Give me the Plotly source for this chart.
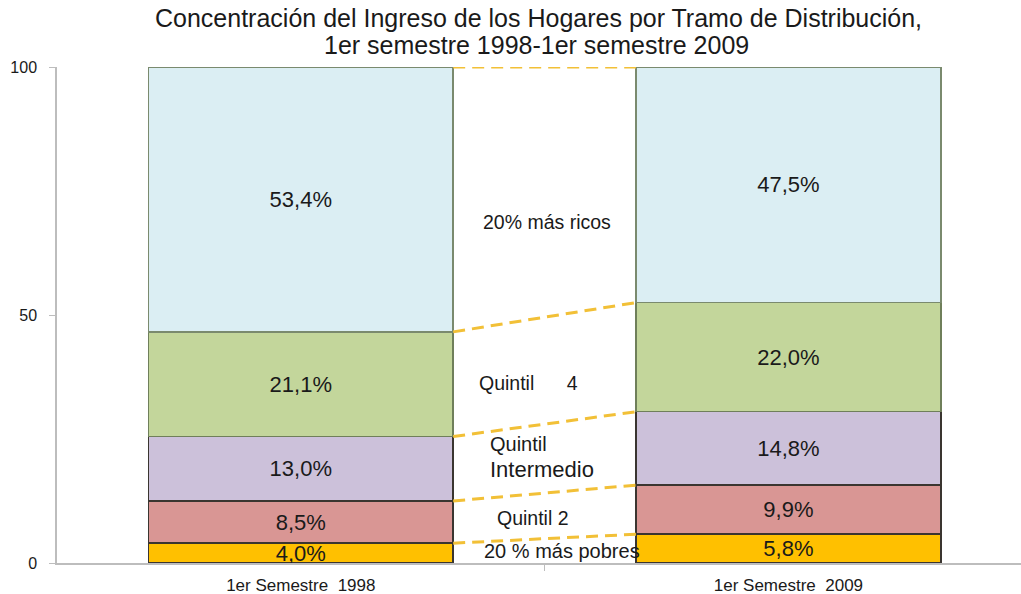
import plotly.graph_objects as go
import numpy as np

# Income share by quintile, bottom to top of each stacked bar
periods = ["1er Semestre  1998", "1er Semestre  2009"]
groups = ["20 % más pobres", "Quintil 2", "Quintil Intermedio", "Quintil      4", "20% más ricos"]
share_1998 = [4.0, 8.5, 13.0, 21.1, 53.4]
share_2009 = [5.8, 9.9, 14.8, 22.0, 47.5]
y_ticks = [0, 50, 100]
title_lines = ["Concentración del Ingreso de los Hogares por Tramo de Distribución,",
               "1er semestre 1998-1er semestre 2009"]

fills = ["#FFC000", "#D99694", "#CCC1DA", "#C3D69B", "#DBEEF3"]
edges = ["#3a3530", "#3a3530", "#3a3530", "#6f7f5a", "#7a8a6e"]
BAR_W = 0.625
FONT = "Liberation Sans, Arial, sans-serif"
PLOT_TOP, PLOT_BOTTOM = 67, 563

fig = go.Figure()
xpos = list(range(len(periods)))

for i, g in enumerate(groups):
    vals = [share_1998[i], share_2009[i]]
    fig.add_trace(go.Bar(
        x=xpos, y=vals, name=g, width=BAR_W,
        marker=dict(color=fills[i], line=dict(color=edges[i], width=1.5)),
        texttemplate="%{y:.1f}%", textposition="inside",
        insidetextanchor="middle", constraintext="none", textangle=0,
        textfont=dict(family=FONT, size=22, color="#1a1a1a"),
        showlegend=False, hoverinfo="skip",
    ))

# Dashed connectors between the tops of matching segments
top_1998 = np.cumsum(share_1998)
top_2009 = np.cumsum(share_2009)
for a, b in zip(top_1998, top_2009):
    fig.add_trace(go.Scatter(
        x=[xpos[0] + BAR_W / 2, xpos[1] - BAR_W / 2], y=[a, b],
        mode="lines", line=dict(color="#F2C037", width=3, dash="12px,7px"),
        showlegend=False, hoverinfo="skip",
    ))

# Group names written in the gap between the two bars
label_pos = [  # (x, y, size)
    (0.371, 2.4, 20),
    (0.398, 9.1, 19.5),
    (0.383, 21.2, 20),
    (0.361, 36.3, 19.5),
    (0.369, 68.8, 19.5),
]
label_text = list(groups)
label_text[2] = "Quintil<br><span style='font-size:22px'>Intermedio</span>"
for (x, y, s), t in zip(label_pos, label_text):
    fig.add_annotation(x=x, y=y, text=t, showarrow=False, xanchor="left",
                       yanchor="middle", align="left",
                       font=dict(family=FONT, size=s, color="#1a1a1a"))

# Two-line title, placed by pixel row above the plot area
plot_h = PLOT_BOTTOM - PLOT_TOP
for k, (line, ypx) in enumerate(zip(title_lines, [18, 45])):
    fig.add_annotation(x=0.499 if k == 0 else 0.497,
                       y=(PLOT_BOTTOM - ypx) / plot_h,
                       xref="paper", yref="paper", text=line,
                       showarrow=False, xanchor="center", yanchor="middle",
                       font=dict(family=FONT, size=25, color="#1a1a1a"))

fig.update_layout(
    width=1021, height=594,
    margin=dict(l=57, r=0, t=PLOT_TOP, b=594 - PLOT_BOTTOM),
    paper_bgcolor="white", plot_bgcolor="white",
    barmode="stack", separators=",.",
    xaxis=dict(
        range=[-0.5, 1.477], tickvals=xpos, ticktext=periods, ticks="",
        showline=True, linecolor="#bdbdbd", linewidth=1.5, showgrid=False,
        zeroline=False, tickfont=dict(family=FONT, size=17, color="#1a1a1a"),
        minor=dict(tickvals=[0.5], ticks="outside", ticklen=6, tickcolor="#bdbdbd"),
        ticklabelstandoff=6,
    ),
    yaxis=dict(
        range=[0, 100], tickvals=y_ticks, ticks="outside", ticklen=6,
        tickcolor="#bdbdbd", showline=True, linecolor="#bdbdbd", linewidth=1.5,
        showgrid=False, zeroline=False, ticklabelstandoff=9,
        tickfont=dict(family=FONT, size=16, color="#1a1a1a"),
    ),
)

fig.write_html("out.html")
